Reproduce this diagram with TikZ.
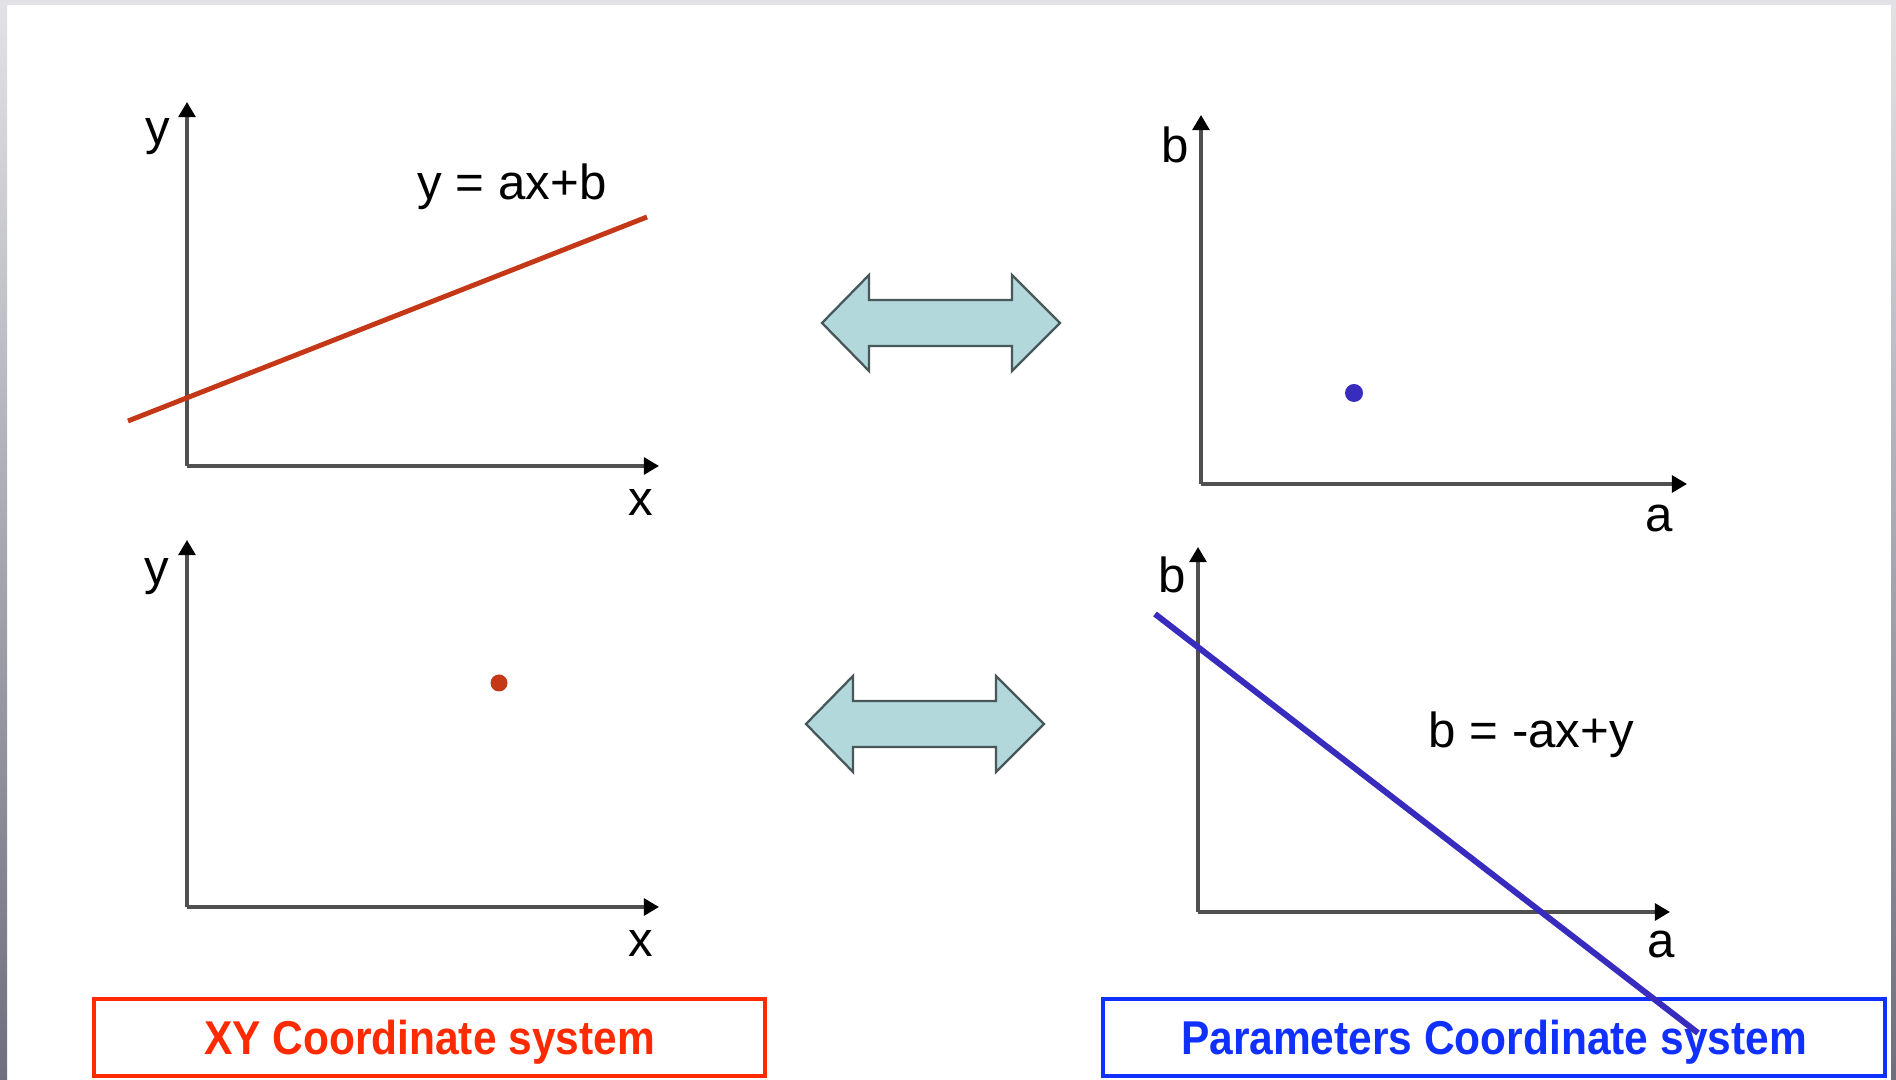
\documentclass[tikz,border=0pt]{standalone}
\usepackage{xcolor}
\usepackage{fontspec}
\setmainfont{Liberation Sans}
\newfontfamily\capfont{Liberation Sans}[FakeStretch=0.895]
\usepackage{tikz}
\usetikzlibrary{arrows.meta}

\definecolor{xyred}{RGB}{255,42,0}
\definecolor{parblue}{RGB}{16,48,255}
\definecolor{linered}{RGB}{196,56,24}
\definecolor{lineblue}{RGB}{56,44,190}
\definecolor{arrowfill}{RGB}{178,216,220}
\definecolor{arrowedge}{RGB}{72,88,90}
\definecolor{axisgray}{RGB}{80,80,80}
\definecolor{frametop}{RGB}{226,226,230}
\definecolor{framebot}{RGB}{110,110,126}

\begin{document}
\begin{tikzpicture}[
    x=0.01cm, y=-0.01cm,
    axis/.style={axisgray, line width=0.95pt, -{Triangle[length=4.3pt, width=4.8pt, color=black]}},
    axislabel/.style={font=\fontsize{14}{16}\selectfont, inner sep=0, anchor=base},
    eqn/.style={font=\fontsize{14}{16}\selectfont, inner sep=0, anchor=base west},
    sysbox/.style={draw, line width=1.1pt, minimum height=0.77cm, inner sep=0,
        text height=9.7pt, text depth=0pt, font=\capfont\bfseries\fontsize{13.5}{15}\selectfont},
    twoway/.style={draw=arrowedge, fill=arrowfill, line width=0.65pt, line join=miter}
]
% frame
\useasboundingbox (0,0) rectangle (1896,1080);
\fill[white] (0,0) rectangle (1896,1080);
\fill[frametop] (0,0) rectangle (1896,5);
\shade[top color=frametop, bottom color=framebot] (0,0) rectangle (7,1080);
\shade[top color=frametop, bottom color=framebot] (1891,0) rectangle (1896,1080);

% xy space, line
\coordinate (o1) at (187,466);
\coordinate (y1) at (187,102);
\coordinate (x1) at (659,466);
\draw[axis] (o1) -- (y1);
\draw[axis] (o1) -- (x1);
\node[axislabel] (ly1) at (158,145) {y};
\node[axislabel] (lx1) at (641,516) {x};
\node[eqn] (eqline) at (417,200) {y = ax+b};
\coordinate (r1) at (128,421);
\coordinate (r2) at (647,217);
\draw[linered, line width=1.4pt] (r1) -- (r2);

% xy space, point
\coordinate (o2) at (187,907);
\coordinate (y2) at (187,540);
\coordinate (x2) at (659,907);
\draw[axis] (o2) -- (y2);
\draw[axis] (o2) -- (x2);
\node[axislabel] (ly2) at (157,585) {y};
\node[axislabel] (lx2) at (641,957) {x};
\fill[linered] (499,683) circle (8.5);

% parameter space, point
\coordinate (o3) at (1201,484);
\coordinate (b3) at (1201,115);
\coordinate (a3) at (1687,484);
\draw[axis] (o3) -- (b3);
\draw[axis] (o3) -- (a3);
\node[axislabel] (lb3) at (1175,163) {b};
\node[axislabel] (la3) at (1659,532) {a};
\fill[lineblue] (1354,393) circle (9);

% parameter space, line
\coordinate (o4) at (1198,912);
\coordinate (b4) at (1198,547);
\coordinate (a4) at (1670,912);
\draw[axis] (o4) -- (b4);
\draw[axis] (o4) -- (a4);
\node[axislabel] (lb4) at (1172,593) {b};
\node[axislabel] (la4) at (1661,958) {a};
\node[eqn] (eqpoint) at (1428,748) {b = -ax+y};

% two-way arrows
\foreach \c in {(941,323),(925,724)}
    \draw[twoway, shift={\c}] (-119,0) -- (-72,-48) -- (-72,-23) -- (71,-23) -- (71,-48)
        -- (119,0) -- (71,48) -- (71,23) -- (-72,23) -- (-72,48) -- cycle;

% captions
\node[sysbox, draw=xyred, text=xyred, minimum width=6.71cm] (xybox) at (429.5,1037.5) {XY Coordinate system};
\node[sysbox, draw=parblue, text=parblue, minimum width=7.82cm] (parbox) at (1494,1037.5) {Parameters Coordinate system};

\coordinate (s1) at (1155,614);
\coordinate (s2) at (1698,1033);
\draw[lineblue, line width=1.7pt] (s1) -- (s2);
\end{tikzpicture}
\end{document}
